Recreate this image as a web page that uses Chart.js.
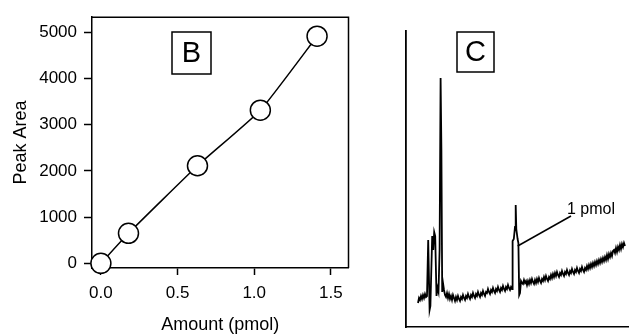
<!DOCTYPE html>
<html>
<head>
<meta charset="utf-8">
<script src="https://cdn.jsdelivr.net/npm/chart.js@4.4.1/dist/chart.umd.min.js"></script>
<style>
  html, body { margin: 0; padding: 0; background: #fff; }
  body { width: 629px; height: 336px; position: relative; overflow: hidden; }
  #wb { position: absolute; left: 0; top: 0; width: 360px; height: 336px; }
  #wc { position: absolute; left: 390px; top: 0; width: 239px; height: 336px; }
</style>
</head>
<body>
<div id="wb"><canvas id="cb" width="360" height="336"></canvas></div>
<div id="wc"><canvas id="cc" width="239" height="336"></canvas></div>
<script>
// ---------- Panel B: calibration ----------
const amountPmol = [0.0, 0.18, 0.63, 1.04, 1.41];
const peakArea   = [0, 650, 2110, 3310, 4910];
const xTickValues = [0.0, 0.5, 1.0, 1.5];
const yTickValues = [0, 1000, 2000, 3000, 4000, 5000];

// ---------- Panel C: chromatogram trace (arbitrary time / signal units) ----------
const cTime = [
  12,13,14,15,16,17,18,19,20,21,
  22.2,23.6,24.4,26.2,27.2,28.2,29.2,30.5,31.5,32.5,33.6,34.6,35.4,36.2,37,38,39,
  40,41,42,43,44,45,46,47,48,49,50,51,52,53,54,55,56,57,58,59,60,61,62,63,64,65,66,67,68,69,
  70,71,72,73,74,75,76,77,78,79,80,81,82,83,84,85,86,87,88,89,90,91,92,93,94,95,96,97,98,99,
  100,101,102,103,104,105,
  106,106.6,107.8,109,109.7,110.3,111.6,112.4,113.2,114,115,116,
  117,118,119,120,121,122,123,124,125,126,127,128,129,130,131,132,133,134,135,136,137,138,139,
  140,141,142,143,144,145,146,147,148,149,150,151,152,153,154,155,156,157,158,159,160,161,162,
  163,164,165,166,167,168,169,170,171,172,173,174,175,176,177,178,179,180,181,182,183,184,185,
  186,187,188,189,190,191,192,193,194,195,196,197,198,199,200,201,202,203,204,205,206,207,208,
  209,210,211,212,213,214,215,216,217,218,219,220
];
const cSignal = [
  24,29,27,31,28,32,29,33,30,31,
  87,17,21,91,77,95,91,31,39,35,77,249,177,35,44,37,32,
  30,34,29,33,28,31,27,32,29,26,30,27,31,28,26,30,28,32,29,27,31,29,33,30,28,32,30,34,31,29,
  33,31,35,32,30,34,32,36,33,31,35,34,38,35,33,37,35,39,36,34,38,36,40,37,35,39,37,41,38,36,
  40,38,42,39,37,40,
  38,86,88,100,122,98,88,84,32,34,46,44,
  43,47,44,46,42,46,43,47,44,48,45,43,47,44,48,45,49,46,44,48,46,50,47,
  51,48,46,50,48,52,49,53,50,54,51,55,52,50,54,52,56,53,51,55,53,57,54,
  52,56,54,58,55,53,57,55,59,56,54,58,56,60,57,55,59,57,61,58,62,59,63,
  60,64,61,65,62,66,63,67,64,68,65,69,66,70,67,72,68,73,70,74,71,76,77,
  74,79,75,80,77,82,78,83,80,84,81
];
// leader line of the "1 pmol" annotation
const leaderTime   = [111.7, 165];
const leaderSignal = [81, 111];
const annotationText = "1 pmol";

const FONT = '"Liberation Sans", Arial, Helvetica, sans-serif';

const boxLabelPlugin = {
  id: 'boxLabel',
  afterDatasetsDraw(chart, args, opts) {
    const ctx = chart.ctx;
    ctx.save();
    ctx.lineWidth = 1.5;
    ctx.strokeStyle = '#000';
    ctx.strokeRect(opts.x, opts.y, opts.w, opts.h);
    ctx.fillStyle = '#000';
    ctx.font = opts.size + 'px ' + FONT;
    ctx.textAlign = 'center';
    ctx.textBaseline = 'middle';
    ctx.fillText(opts.text, opts.x + opts.w / 2, opts.y + opts.h / 2 + 1);
    ctx.restore();
  }
};

const framePlugin = {
  id: 'frame',
  afterDatasetsDraw(chart, args, opts) {
    if (!opts.full) return;
    const {left, right, top, bottom} = chart.chartArea;
    const ctx = chart.ctx;
    ctx.save();
    ctx.lineWidth = 1.5;
    ctx.strokeStyle = '#000';
    ctx.beginPath();
    ctx.moveTo(left, top); ctx.lineTo(right, top); ctx.lineTo(right, bottom);
    ctx.stroke();
    ctx.restore();
  }
};

const annotationPlugin = {
  id: 'annot',
  afterDatasetsDraw(chart, args, opts) {
    if (!opts.text) return;
    const xs = chart.scales.x, ys = chart.scales.y;
    const ctx = chart.ctx;
    ctx.save();
    ctx.fillStyle = '#000';
    ctx.font = opts.size + 'px ' + FONT;
    ctx.textAlign = 'left';
    ctx.textBaseline = 'middle';
    ctx.fillText(opts.text, xs.getPixelForValue(opts.atX) + opts.dx, ys.getPixelForValue(opts.atY) + opts.dy);
    ctx.restore();
  }
};

Chart.register(boxLabelPlugin, framePlugin, annotationPlugin);

// ---------- Chart B ----------
new Chart(document.getElementById('cb'), {
  type: 'line',
  data: {
    datasets: [{
      data: amountPmol.map((v, i) => ({x: v, y: peakArea[i]})),
      borderColor: '#000',
      borderWidth: 1.5,
      tension: 0.15,
      pointRadius: 10,
      pointBorderWidth: 1.5,
      pointBackgroundColor: '#fff',
      pointBorderColor: '#000',
      clip: false
    }]
  },
  options: {
    responsive: false,
    animation: false,
    events: [],
    layout: {padding: {top: 15, right: 7, left: 0, bottom: 0}},
    plugins: {
      legend: {display: false},
      tooltip: {enabled: false},
      boxLabel: {text: 'B', x: 172, y: 32, w: 39, h: 42, size: 29},
      frame: {full: true},
      annot: {}
    },
    scales: {
      x: {
        type: 'linear',
        min: -0.058, max: 1.615,
        afterBuildTicks: s => { s.ticks = xTickValues.map(v => ({value: v})); },
        afterFit: s => { s.height = 68; },
        ticks: {
          color: '#000', padding: 8,
          font: {family: FONT, size: 17},
          callback: v => Number(v).toFixed(1)
        },
        grid: {display: true, drawOnChartArea: false, drawTicks: true, tickLength: 7, tickColor: '#000', tickWidth: 1.5},
        border: {display: true, color: '#000', width: 1.5},
        title: {display: true, text: 'Amount (pmol)', color: '#000', font: {family: FONT, size: 18}, padding: {top: 6, bottom: 0}}
      },
      y: {
        type: 'linear',
        min: -100, max: 5320,
        afterBuildTicks: s => { s.ticks = yTickValues.map(v => ({value: v})); },
        afterFit: s => { s.width = 92; },
        ticks: {
          color: '#000', padding: 7,
          font: {family: FONT, size: 17},
          callback: v => String(v)
        },
        grid: {display: true, drawOnChartArea: false, drawTicks: true, tickLength: 8, tickColor: '#000', tickWidth: 1.5},
        border: {display: true, color: '#000', width: 1.5},
        title: {display: true, text: 'Peak Area', color: '#000', font: {family: FONT, size: 18}, padding: {top: 10, bottom: 0}}
      }
    }
  }
});

// ---------- Chart C ----------
new Chart(document.getElementById('cc'), {
  type: 'line',
  data: {
    datasets: [{
      data: cTime.map((t, i) => ({x: t, y: cSignal[i]})),
      borderColor: '#000',
      borderWidth: 1.8,
      tension: 0,
      pointRadius: 0
    }, {
      data: leaderTime.map((t, i) => ({x: t, y: leaderSignal[i]})),
      borderColor: '#000',
      borderWidth: 1.5,
      tension: 0,
      pointRadius: 0
    }]
  },
  options: {
    responsive: false,
    animation: false,
    events: [],
    layout: {padding: {top: 31, right: 0, left: 16, bottom: 9}},
    plugins: {
      legend: {display: false},
      tooltip: {enabled: false},
      boxLabel: {text: 'C', x: 67, y: 32, w: 37, h: 40, size: 29},
      frame: {full: false},
      annot: {text: annotationText, atX: 165, atY: 111, dx: -4, dy: -6, size: 16}
    },
    scales: {
      x: {
        type: 'linear', min: 0, max: 223,
        ticks: {display: false},
        grid: {display: false},
        border: {display: true, color: '#000', width: 1.5},
        afterFit: s => { s.height = 0; }
      },
      y: {
        type: 'linear', min: 0, max: 296,
        ticks: {display: false},
        grid: {display: false},
        border: {display: true, color: '#000', width: 1.8},
        afterFit: s => { s.width = 0; }
      }
    }
  }
});
</script>
</body>
</html>
